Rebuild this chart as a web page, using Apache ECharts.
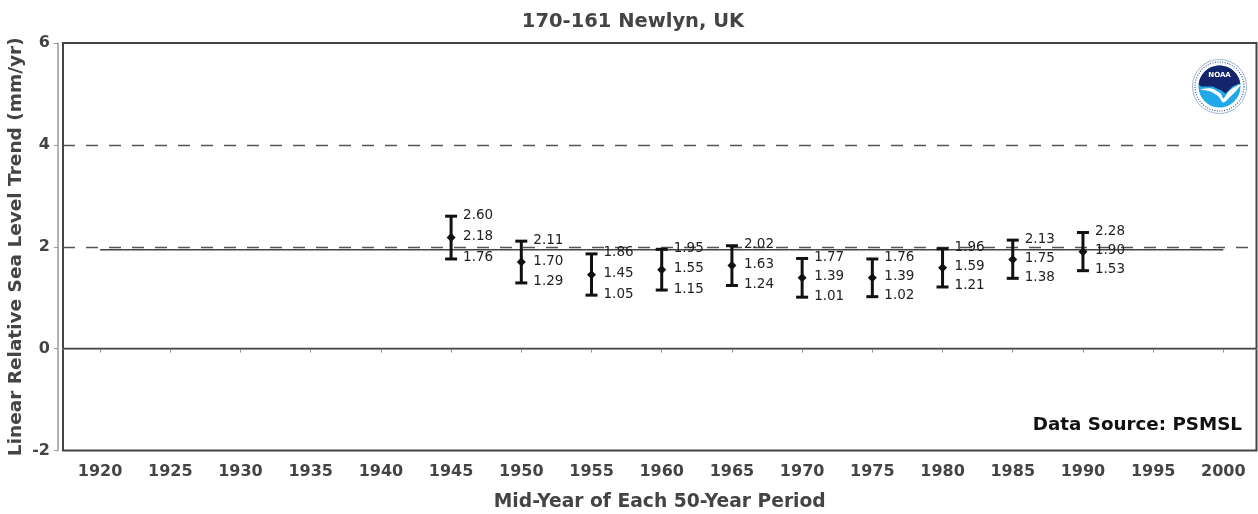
<!DOCTYPE html>
<html>
<head>
<meta charset="utf-8">
<script src="https://cdn.jsdelivr.net/npm/echarts@6/dist/echarts.min.js"></script>
<style>
  html, body { margin: 0; padding: 0; background: #fff; }
  #chart { width: 1258px; height: 514px; }
</style>
</head>
<body>
<div id="chart"></div>
<script>
// Mid-year of each 50-year window
const midYears = [1945, 1950, 1955, 1960, 1965, 1970, 1975, 1980, 1985, 1990];
// Trend and its 95% confidence bounds (mm/yr)
const trendValues = [2.18, 1.70, 1.45, 1.55, 1.63, 1.39, 1.39, 1.59, 1.75, 1.90];
const upperValues = [2.60, 2.11, 1.86, 1.95, 2.02, 1.77, 1.76, 1.96, 2.13, 2.28];
const lowerValues = [1.76, 1.29, 1.05, 1.15, 1.24, 1.01, 1.02, 1.21, 1.38, 1.53];
// Long-term trend over the full record
const overallTrend = 1.94;
const overallSpan = [1920, 2000];
// Axis ticks
const xTicks = [1920, 1925, 1930, 1935, 1940, 1945, 1950, 1955, 1960, 1965, 1970, 1975, 1980, 1985, 1990, 1995, 2000];

const FONT = 'DejaVu Sans';
const chart = echarts.init(document.getElementById('chart'), null, { renderer: 'canvas' });

const barData = midYears.map((y, i) => [y, trendValues[i], upperValues[i], lowerValues[i]]);

function renderBar(params, api) {
  const x = api.value(0);
  const mid = api.coord([x, api.value(1)]);
  const top = api.coord([x, api.value(2)]);
  const bot = api.coord([x, api.value(3)]);
  const cap = 6;
  const lineStyle = { stroke: '#111', lineWidth: 3 };
  const d = 4.5;
  const tx = mid[0] + 12;
  const textStyle = (v, y) => ({
    text: v.toFixed(2), x: tx, y: y - 1,
    fill: '#222', font: '13.5px "' + FONT + '"',
    align: 'left', verticalAlign: 'middle'
  });
  return {
    type: 'group',
    children: [
      { type: 'line', shape: { x1: mid[0], y1: top[1], x2: mid[0], y2: bot[1] }, style: lineStyle },
      { type: 'line', shape: { x1: mid[0] - cap, y1: top[1], x2: mid[0] + cap, y2: top[1] }, style: lineStyle },
      { type: 'line', shape: { x1: mid[0] - cap, y1: bot[1], x2: mid[0] + cap, y2: bot[1] }, style: lineStyle },
      { type: 'polygon', shape: { points: [[mid[0], mid[1] - d], [mid[0] + d, mid[1]], [mid[0], mid[1] + d], [mid[0] - d, mid[1]]] }, style: { fill: '#111' } },
      { type: 'text', style: textStyle(api.value(2), top[1]) },
      { type: 'text', style: textStyle(api.value(1), mid[1]) },
      { type: 'text', style: textStyle(api.value(3), bot[1]) }
    ]
  };
}

// NOAA emblem pieces (local coordinates, circle centred at 27,27)
function arcPoints(cx, cy, r, a0, a1, n) {
  const pts = [];
  for (let i = 0; i <= n; i++) {
    const a = a0 + (a1 - a0) * i / n;
    pts.push([cx + r * Math.cos(a), cy + r * Math.sin(a)]);
  }
  return pts;
}
const navyShape = arcPoints(27, 27, 21, Math.PI * 1.03, Math.PI * 1.97, 30)
  .concat([[47, 24], [40, 27], [33, 34], [29, 31], [20, 27], [9, 27]]);
const wingShape = [[8, 30], [19, 29], [28, 34], [31, 39], [36, 32], [43, 27], [48, 25], [44, 31], [37, 38], [31, 43], [26, 37], [18, 32]];

const option = {
  animation: false,
  backgroundColor: '#fff',
  textStyle: { fontFamily: FONT },
  title: {
    text: '170-161 Newlyn, UK',
    left: 628, top: 7, textAlign: 'center',
    textStyle: { fontFamily: FONT, fontSize: 19.5, fontWeight: 'bold', color: '#444' }
  },
  grid: {
    left: 63, right: 1.5, top: 43, bottom: 63.5,
    outerBoundsMode: 'none', containLabel: false,
    show: true, borderColor: '#444', borderWidth: 2, backgroundColor: '#fff'
  },
  xAxis: {
    type: 'value', min: 1917.36, max: 2002.36, offset: 5,
    name: 'Mid-Year of Each 50-Year Period', nameLocation: 'middle', nameGap: 37,
    nameTextStyle: { fontFamily: FONT, fontSize: 18.7, fontWeight: 'bold', color: '#444' },
    axisLine: { show: true, lineStyle: { color: '#999', width: 1.5 } },
    axisTick: { show: true, customValues: xTicks, length: 4, lineStyle: { color: '#999' } },
    axisLabel: {
      customValues: xTicks, margin: 8,
      fontFamily: FONT, fontSize: 16, fontWeight: 'bold', color: '#444',
      formatter: v => String(v)
    },
    splitLine: { show: false }
  },
  yAxis: {
    type: 'value', min: -2, max: 6, interval: 2, offset: 5,
    name: 'Linear Relative Sea Level Trend (mm/yr)', nameLocation: 'middle',
    nameGap: 32, nameMoveOverlap: false,
    nameTextStyle: { fontFamily: FONT, fontSize: 18.5, fontWeight: 'bold', color: '#444' },
    axisLine: { show: true, lineStyle: { color: '#999', width: 1.5 } },
    axisTick: { show: true, length: 4, lineStyle: { color: '#999' } },
    axisLabel: {
      margin: 8, fontFamily: FONT, fontSize: 16, fontWeight: 'bold', color: '#444',
      formatter: v => String(v)
    },
    splitLine: { show: false }
  },
  graphic: [
    {
      type: 'text', right: 16, top: 416, z: 10,
      style: { text: 'Data Source: PSMSL', fill: '#111', font: 'bold 18.3px "' + FONT + '"' }
    },
    {
      type: 'group', left: 1192, top: 59, z: 10,
      children: [
        { type: 'circle', shape: { cx: 27, cy: 27, r: 27 }, style: { fill: '#fff', stroke: '#9fb6d6', lineWidth: 1 } },
        { type: 'circle', shape: { cx: 27, cy: 27, r: 21 }, style: { fill: '#21a8e6' } },
        { type: 'polygon', shape: { points: navyShape }, style: { fill: '#15256b' } },
        { type: 'polygon', shape: { points: wingShape, smooth: 0.3 }, style: { fill: '#fff' } },
        { type: 'text', style: { text: 'NOAA', x: 27, y: 16, align: 'center', verticalAlign: 'middle', fill: '#fff', font: 'bold 7px "' + FONT + '"' } },
        { type: 'circle', shape: { cx: 27, cy: 27, r: 24.5 }, style: { fill: null, stroke: '#3b5aa0', lineWidth: 1.2, lineDash: [1, 1.5] } }
      ]
    }
  ],
  series: [
    {
      type: 'line', data: [], silent: true, symbol: 'none',
      markLine: {
        silent: true, symbol: 'none', label: { show: false },
        data: [
          { yAxis: 0, lineStyle: { type: 'solid', color: '#444', width: 1.3 } },
          { yAxis: 2, lineStyle: { type: [12, 11], color: '#555', width: 1.3 } },
          { yAxis: 4, lineStyle: { type: [12, 11], color: '#555', width: 1.3 } }
        ]
      }
    },
    {
      type: 'line', silent: true, symbol: 'none',
      data: overallSpan.map(y => [y, overallTrend]),
      lineStyle: { color: '#444', width: 1.6 }
    },
    {
      type: 'custom', data: barData, renderItem: renderBar,
      encode: { x: 0, y: [1, 2, 3] }, z: 5
    }
  ]
};

chart.setOption(option);
</script>
</body>
</html>
